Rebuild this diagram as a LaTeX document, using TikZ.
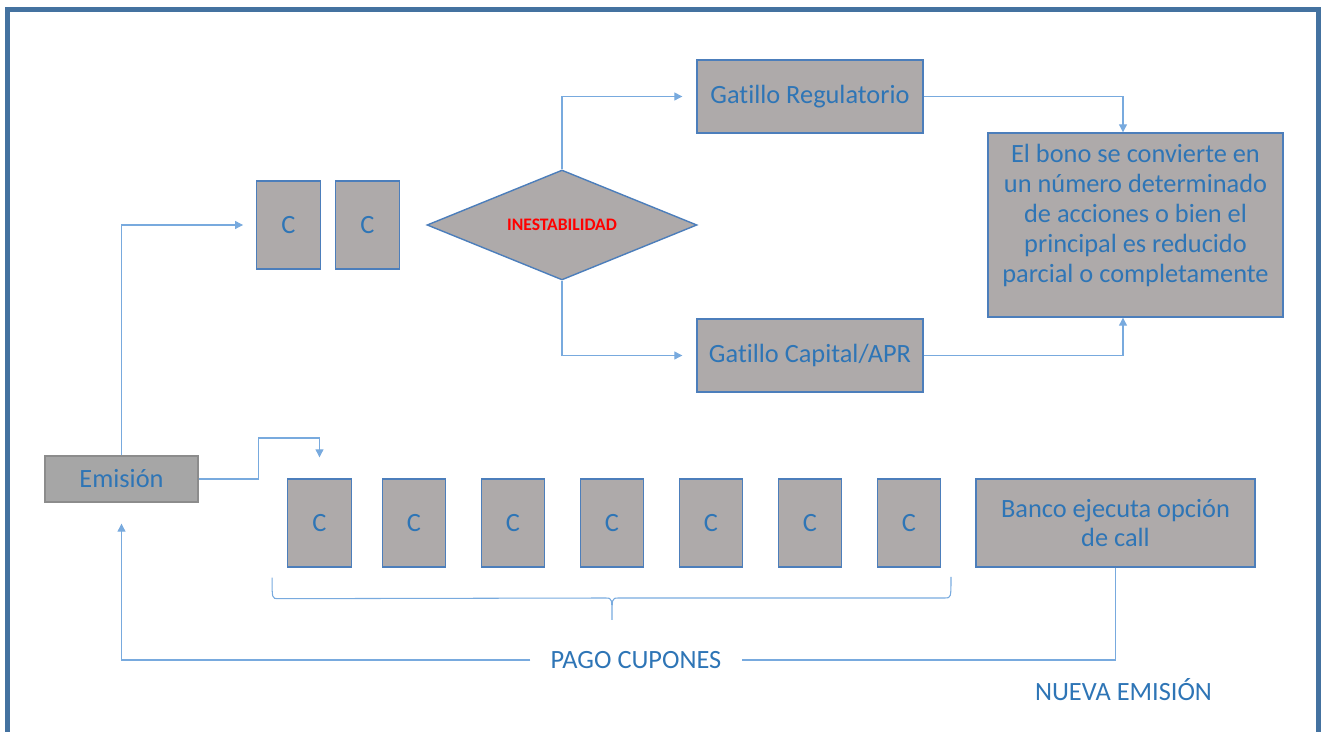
\documentclass[tikz,border=0pt]{standalone}
\usepackage{fontspec}
\setmainfont{Carlito}[Ligatures=NoCommon]
\usetikzlibrary{shapes.geometric,positioning}
\usetikzlibrary{arrows.meta,calc}
\definecolor{framebl}{RGB}{68,114,160}
\definecolor{boxgray}{RGB}{174,170,170}
\definecolor{emigray}{RGB}{166,166,166}
\definecolor{boxline}{RGB}{76,126,187}
\definecolor{txtblue}{RGB}{46,117,182}
\definecolor{linkblue}{RGB}{120,170,222}

\begin{document}
\begin{tikzpicture}[x=0.02cm,y=-0.02cm,
        txt/.style={text=txtblue,font=\fontsize{15}{17}\selectfont,inner sep=0pt},
        box/.style={txt,draw=boxline,fill=boxgray,line width=0.8pt},
        cbox/.style={box,minimum width=1.27cm,minimum height=1.76cm},
        gbox/.style={box,minimum width=4.52cm,minimum height=1.46cm},
        line/.style={draw=linkblue,line width=0.6pt},
        link/.style={line,-{Triangle[length=4.5pt,width=4.5pt]}}]

        \useasboundingbox (0,0) rectangle (1323,732);
        % Frame
        \draw[framebl,line width=2.9pt,line join=miter] (7.5,745) -- (7.5,9.5) -- (1318.5,9.5) -- (1318.5,745);

        % Emission
        \node[txt,draw=gray!90,fill=emigray,line width=0.8pt,minimum width=3.06cm,minimum height=0.92cm] (emi) at (121.5,479) {Emisión};

        % Coupons before the trigger
        \node[cbox] (ca) at (288.5,225) {C};
        \node[cbox] (cb) at (367.5,225) {C};
        \node[diamond,shape aspect=2.45,draw=boxline,fill=boxgray,line width=0.8pt,inner sep=0pt,minimum width=5.4cm,minimum height=2.2cm,
            text=red,font=\fontsize{10}{12}\selectfont\bfseries] (ines) at (562,225) {INESTABILIDAD};

        % Triggers
        \node[gbox] (greg) at (810,96.5) {Gatillo Regulatorio};
        \node[gbox] (gcap) at (810,355.5) {Gatillo Capital/APR};
        \node[box,minimum width=5.9cm,minimum height=3.68cm,
            label={[txt,align=center,yshift=0.19cm]center:El bono se convierte en\\un número determinado\\de acciones o bien el\\principal es reducido\\parcial o completamente}] (bono) at (1135.5,225) {};

        % Coupons
        \foreach \x [count=\i] in {319.5,414,513,612,711,810,909}
            \node[cbox] (c\i) at (\x,523) {C};
        \node[box,align=center,minimum width=5.58cm,minimum height=1.76cm] (banco) at (1115.5,523) {Banco ejecuta opción\\de call};

        \node[txt,inner xsep=0.4cm] (pago) at (636,660) {PAGO CUPONES};
        \node[txt] (nueva) at (1123.5,690) {NUEVA EMISIÓN};

        % Brace under the coupons
        \draw[line] (c1.south west) ++(-15,10) .. controls ++(0,21) .. ++(6,21) -- (606,598)
            .. controls (612,598) .. (612,620) .. controls (612,598) .. (618,598) -- (945,598)
            .. controls (951,598) .. (951,577);

        \draw[link,shorten >=0.26cm] (emi.north) |- (ca.west);
        \draw[link,shorten >=0.28cm] (ines.north) |- (greg.west);
        \draw[link,shorten >=0.28cm] (ines.south) |- (gcap.west);
        \draw[link] (greg.east) -| ($(bono.north)+(-12.5,0)$);
        \draw[link] (gcap.east) -| ($(bono.south)+(-12.5,0)$);
        \draw[link,shorten >=0.42cm] (emi.east) -| ++(60,-41) -| (c1.north);
        \draw[line] (banco.south) |- (pago.east);
        \draw[link,shorten >=0.42cm] (pago.west) -| (emi.south);

    \end{tikzpicture}
\end{document}
